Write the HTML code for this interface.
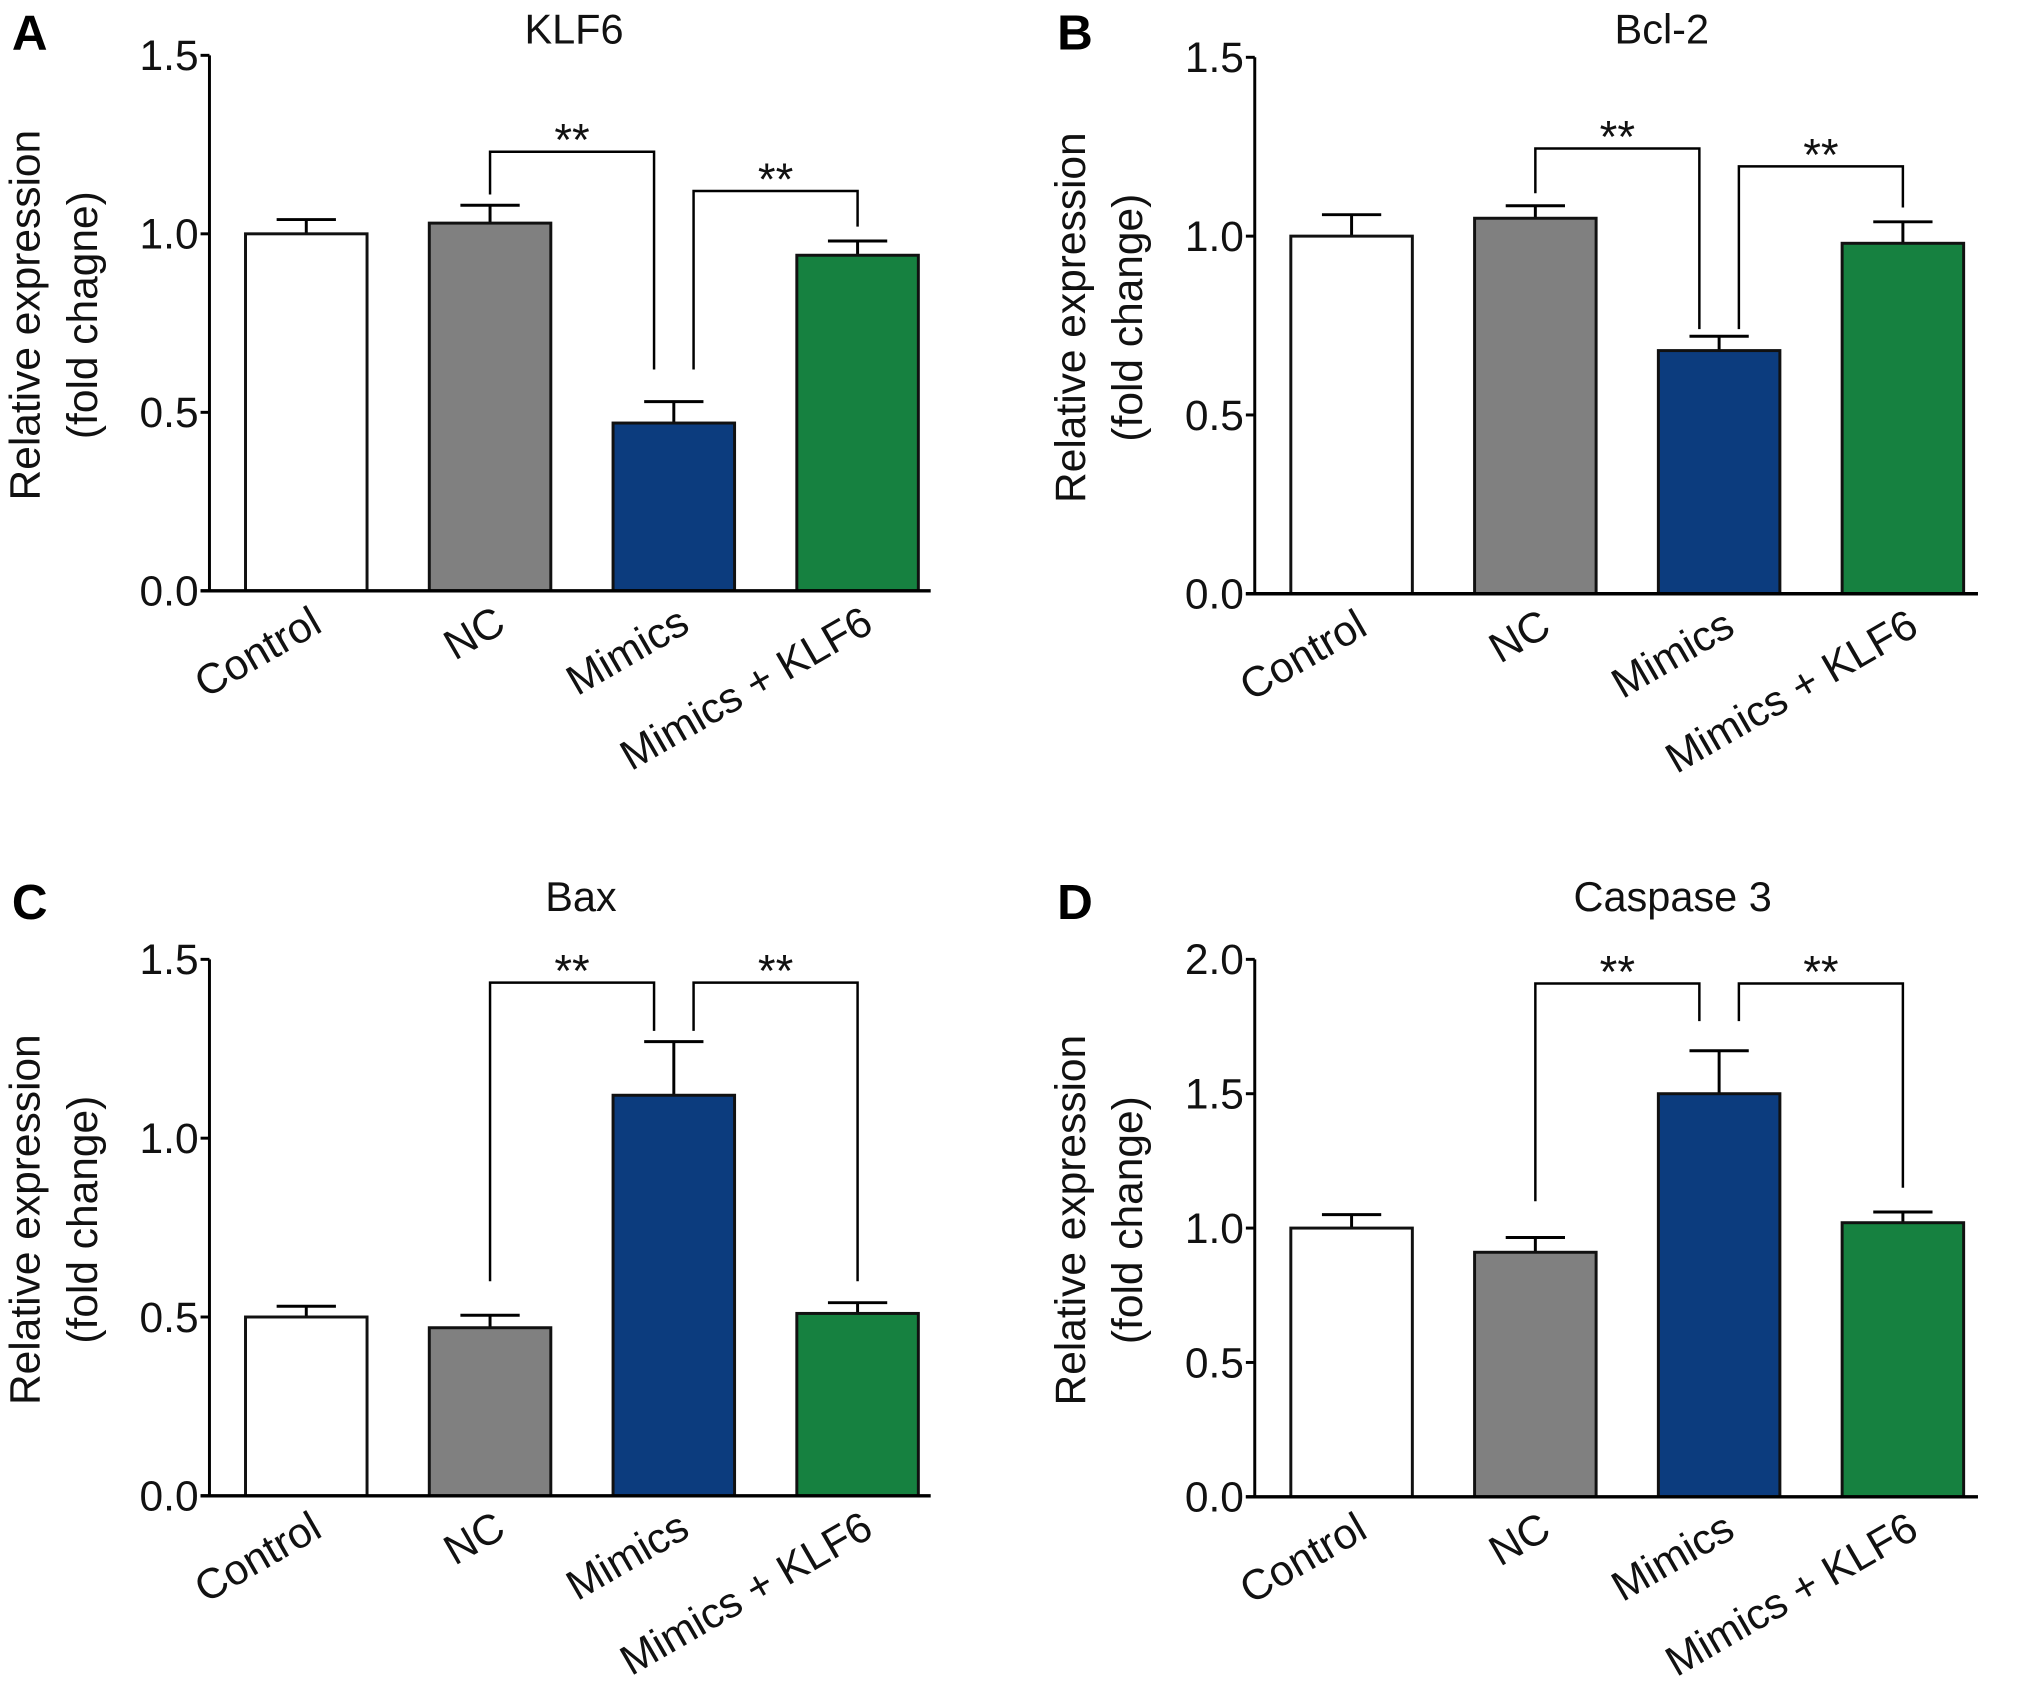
<!DOCTYPE html>
<html><head><meta charset="utf-8">
<style>
html,body{margin:0;padding:0;background:#fff;}
svg{display:block;font-family:"Liberation Sans",Arial,sans-serif;}
</style></head>
<body>
<svg id="fig" width="2031" height="1689" viewBox="0 0 2031 1689" xmlns="http://www.w3.org/2000/svg"><g id="root" transform="scale(0.988)"></g></svg>
<script>
const categories = ["Control", "NC", "Mimics", "Mimics + KLF6"];
const titles = ["KLF6", "Bcl-2", "Bax", "Caspase 3"];
const panelLetters = ["A", "B", "C", "D"];
const ylabels2 = ["(fold chagne)", "(fold change)", "(fold change)", "(fold change)"];
const valuesA = [1.0, 1.03, 0.47, 0.94];
const errorsA = [0.04, 0.05, 0.06, 0.04];
const valuesB = [1.0, 1.05, 0.68, 0.98];
const errorsB = [0.06, 0.035, 0.04, 0.06];
const valuesC = [0.5, 0.47, 1.12, 0.51];
const errorsC = [0.03, 0.035, 0.15, 0.03];
const valuesD = [1.0, 0.91, 1.5, 1.02];
const errorsD = [0.05, 0.055, 0.16, 0.04];
const ticksAB = [0.0, 0.5, 1.0, 1.5];
const ticksD = [0.0, 0.5, 1.0, 1.5, 2.0];
const yMaxes = [1.5, 1.5, 1.5, 2.0];
// brackets: [from bar, to bar, bracket y, left leg end, right leg end]
const bracketsA = [[1, 2, 1.23, 1.11, 0.62], [2, 3, 1.12, 0.62, 1.02]];
const bracketsB = [[1, 2, 1.245, 1.12, 0.74], [2, 3, 1.195, 0.74, 1.08]];
const bracketsC = [[1, 2, 1.435, 0.6, 1.3], [2, 3, 1.435, 1.3, 0.6]];
const bracketsD = [[1, 2, 1.91, 1.1, 1.77], [2, 3, 1.91, 1.77, 1.15]];
const colors = ["#ffffff", "#808080", "#0c3c7e", "#168140"];

const NS = "http://www.w3.org/2000/svg";
const root = document.getElementById("root");
function mk(tag, attrs, parent) {
  const e = document.createElementNS(NS, tag);
  for (const k in attrs) e.setAttribute(k, attrs[k]);
  (parent || root).appendChild(e);
  return e;
}

const panels = [
  {ax: 212, top: 56, y0: 598, xend: 942, vals: valuesA, errs: errorsA, ticks: ticksAB, br: bracketsA, lx: 12, ly: 50, tx: 581, ty: 44},
  {ax: 1270, top: 58, y0: 601, xend: 2002, vals: valuesB, errs: errorsB, ticks: ticksAB, br: bracketsB, lx: 1070, ly: 50, tx: 1682, ty: 44},
  {ax: 212, top: 971, y0: 1514, xend: 942, vals: valuesC, errs: errorsC, ticks: ticksAB, br: bracketsC, lx: 12, ly: 930, tx: 588, ty: 922},
  {ax: 1270, top: 971, y0: 1515, xend: 2002, vals: valuesD, errs: errorsD, ticks: ticksD, br: bracketsD, lx: 1070, ly: 930, tx: 1693, ty: 922}
];

panels.forEach((p, pi) => {
  const g = mk("g", {});
  
  
  const ymax = yMaxes[pi];
  const y = v => p.y0 - (v / ymax) * (p.y0 - p.top);
  const x = i => p.ax + 98 + 186 * i;
  const bw = 123;

  const L = mk("text", {x: p.lx, y: p.ly, "font-size": 50, "font-weight": "bold", fill: "#000"}, g);
  L.textContent = panelLetters[pi];
  
  

  const T = mk("text", {x: p.tx, y: p.ty, "font-size": 42, "text-anchor": "middle", fill: "#111"}, g);
  T.textContent = titles[pi];
  
  

  const cy = (p.top + p.y0) / 2 - 8;
  const Y1 = mk("text", {x: 0, y: 0, "font-size": 43, "text-anchor": "middle", fill: "#111", transform: `translate(${p.ax - 172},${cy}) rotate(-90)`}, g);
  Y1.textContent = "Relative expression";
  
  
  const Y2 = mk("text", {x: 0, y: 0, "font-size": 43, "text-anchor": "middle", fill: "#111", transform: `translate(${p.ax - 114},${cy}) rotate(-90)`}, g);
  Y2.textContent = ylabels2[pi];
  
  

  p.ticks.forEach(t => {
    const tl = mk("line", {x1: p.ax - 9, x2: p.ax, y1: y(t), y2: y(t), stroke: "#000", "stroke-width": 3}, g);
    
    
    const tt = mk("text", {x: p.ax - 11, y: y(t) + 15, "font-size": 43, "text-anchor": "end", fill: "#111"}, g);
    tt.textContent = t.toFixed(1);
    
    
  });

  p.vals.forEach((v, i) => {
    const cx = x(i);
    const e = mk("line", {x1: cx, x2: cx, y1: y(v), y2: y(v + p.errs[i]), stroke: "#000", "stroke-width": 3}, g);
    
    
    const c = mk("line", {x1: cx - 30, x2: cx + 30, y1: y(v + p.errs[i]), y2: y(v + p.errs[i]), stroke: "#000", "stroke-width": 3}, g);
    
    
    const r = mk("rect", {x: cx - bw / 2, y: y(v), width: bw, height: p.y0 - y(v), fill: colors[i], stroke: "#111", "stroke-width": 3}, g);
    
    
    const cl = mk("text", {x: 0, y: 0, "font-size": 43, "text-anchor": "end", fill: "#111", transform: `translate(${cx + 18},${p.y0 + 40}) rotate(-30)`}, g);
    cl.textContent = categories[i];
    
    
  });

  const ya = mk("line", {x1: p.ax, x2: p.ax, y1: p.top, y2: p.y0 + 1.5, stroke: "#000", "stroke-width": 3}, g);
  
  
  const xa = mk("line", {x1: p.ax - 9, x2: p.xend, y1: p.y0, y2: p.y0, stroke: "#000", "stroke-width": 3.5}, g);
  
  

  p.br.forEach(b => {
    const xl = x(b[0]) + (b[0] === 2 ? 20 : 0);
    const xr = x(b[1]) - (b[1] === 2 ? 20 : 0);
    const by = y(b[2]);
    const pl = mk("polyline", {points: `${xl},${y(b[3])} ${xl},${by} ${xr},${by} ${xr},${y(b[4])}`, fill: "none", stroke: "#000", "stroke-width": 2.5}, g);
    
    
    const st = mk("text", {x: (xl + xr) / 2, y: by + 4, "font-size": 46, "text-anchor": "middle", fill: "#111"}, g);
    st.textContent = "**";
    
    
  });
});
</script>
</body></html>
